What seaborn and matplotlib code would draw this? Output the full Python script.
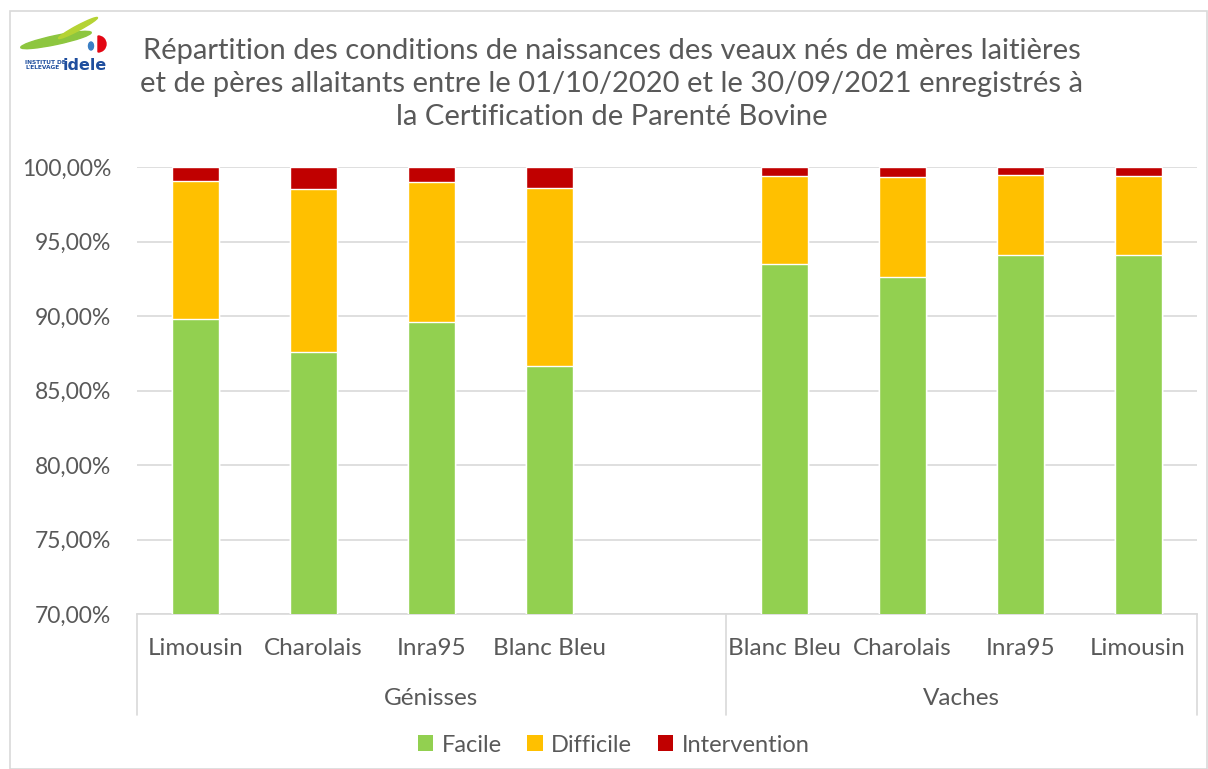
import matplotlib
matplotlib.use("Agg")
import matplotlib.pyplot as plt
import seaborn as sns
import pandas as pd
from matplotlib.patches import Patch, Rectangle, Ellipse, Wedge
from matplotlib.lines import Line2D

groups = ["Génisses"] * 4 + ["Vaches"] * 4
races = ["Limousin", "Charolais", "Inra95", "Blanc Bleu",
         "Blanc Bleu", "Charolais", "Inra95", "Limousin"]
facile = [89.80, 87.58, 89.62, 86.64, 93.51, 92.62, 94.09, 94.09]
difficile = [9.24, 10.97, 9.40, 11.95, 5.91, 6.69, 5.37, 5.33]
intervention = [0.96, 1.45, 0.98, 1.41, 0.58, 0.69, 0.54, 0.58]
series = ["Facile", "Difficile", "Intervention"]
yticks = [70, 75, 80, 85, 90, 95, 100]

C_GREEN, C_YEL, C_RED = "#92D050", "#FFC000", "#C00000"
TXT = "#595959"

sns.set_theme(style="white")
plt.rcParams["font.family"] = ["Lato", "DejaVu Sans"]

df = pd.DataFrame({"groupe": groups, "race": races, "Facile": facile,
                   "Difficile": difficile, "Intervention": intervention})
df["key"] = df["groupe"] + "|" + df["race"]
df["mid"] = df["Facile"] + df["Difficile"]
df["top"] = df["mid"] + df["Intervention"]
order = list(df["key"][:4]) + ["gap"] + list(df["key"][4:])

fig = plt.figure(figsize=(12.08, 7.69), dpi=100)
ax = fig.add_axes([137 / 1208, 1 - 614 / 769, (1197 - 137) / 1208, (614 - 167) / 769])

for col, c in [("top", C_RED), ("mid", C_YEL), ("Facile", C_GREEN)]:
    sns.barplot(data=df, x="key", y=col, order=order, color=c, width=0.4,
                saturation=1, errorbar=None, ax=ax, zorder=3)

ax.set_ylim(70, 100)
ax.set_xlim(-0.5, len(order) - 0.5)
ax.set_yticks(yticks)
ax.set_yticklabels([f"{v:.2f}%".replace(".", ",") for v in yticks],
                   fontsize=16.5, color=TXT)
ax.yaxis.grid(True, color="#D9D9D9", linewidth=1.2, zorder=0)
ax.set_axisbelow(True)
ax.tick_params(axis="y", length=0, pad=18.5)
ax.tick_params(axis="x", length=0, pad=0)
ax.set_xticks([])
ax.set_xlabel("")
ax.set_ylabel("")
for s in ["left", "right", "top"]:
    ax.spines[s].set_visible(False)
ax.spines["bottom"].set_color("#D9D9D9")
ax.spines["bottom"].set_linewidth(1.2)

# category labels
trans = ax.get_xaxis_transform()
for i, k in enumerate(order):
    if k == "gap":
        continue
    ax.text(i, -0.077, k.split("|")[1], transform=trans, ha="center", va="center",
            fontsize=17.5, color=TXT)
# group separators
for xsep in [-0.5, 4.5, 8.5]:
    ax.add_line(Line2D([xsep, xsep], [0, -0.225], transform=trans, color="#D9D9D9",
                       linewidth=1.2, clip_on=False))
ax.text(2.0, -0.19, "Génisses", transform=trans, ha="center", va="center",
        fontsize=17.5, color=TXT)
ax.text(6.5, -0.19, "Vaches", transform=trans, ha="center", va="center",
        fontsize=17.5, color=TXT)

# title
fig.text(612 / 1208, 1 - 84 / 769,
         "Répartition des conditions de naissances des veaux nés de mères laitières\n"
         "et de pères allaitants entre le 01/10/2020 et le 30/09/2021 enregistrés à\n"
         "la Certification de Parenté Bovine",
         ha="center", va="center", fontsize=21, color=TXT, linespacing=1.33)

# legend
handles = [Patch(facecolor=c, edgecolor="none") for c in [C_GREEN, C_YEL, C_RED]]
fig.legend(handles, series, loc="center", bbox_to_anchor=(0.508, 1 - 745 / 769),
           ncol=3, frameon=False, fontsize=17, handlelength=0.65, handleheight=0.65,
           handletextpad=0.35, columnspacing=1.1, labelcolor=TXT)

# outer frame
fig.add_artist(Rectangle((10 / 1208, 0), 1 - 10 / 1208 - 0.0008, 1 - 10 / 769 - 0.001,
                         transform=fig.transFigure, fill=False, edgecolor="#D9D9D9",
                         linewidth=1.2))

# logo
lax = fig.add_axes([20 / 1208, 1 - 78 / 769, 88 / 1208, 62 / 769])
lax.set_xlim(0, 88)
lax.set_ylim(0, 62)
lax.axis("off")
lax.add_patch(Ellipse((36, 38), 72, 9, angle=12, color="#8DC63F"))
lax.add_patch(Ellipse((58, 50), 44, 5, angle=28, color="#B5D334"))
lax.add_patch(Wedge((78, 34), 8, -90, 90, color="#E30613"))
lax.add_patch(Ellipse((71, 32), 5, 8, color="#3B7FC4"))
lax.text(5, 13, "INSTITUT DE\nL'ELEVAGE", fontsize=4.2, fontweight="bold",
         color="#1F4E9E", va="center", ha="left", linespacing=1.0,
         family="Liberation Sans Narrow")
lax.text(87, 13, "idele", fontsize=11.5, fontweight="bold", color="#1F4E9E",
         va="center", ha="right", family="Liberation Sans Narrow")

fig.savefig("out.png", dpi=100)
